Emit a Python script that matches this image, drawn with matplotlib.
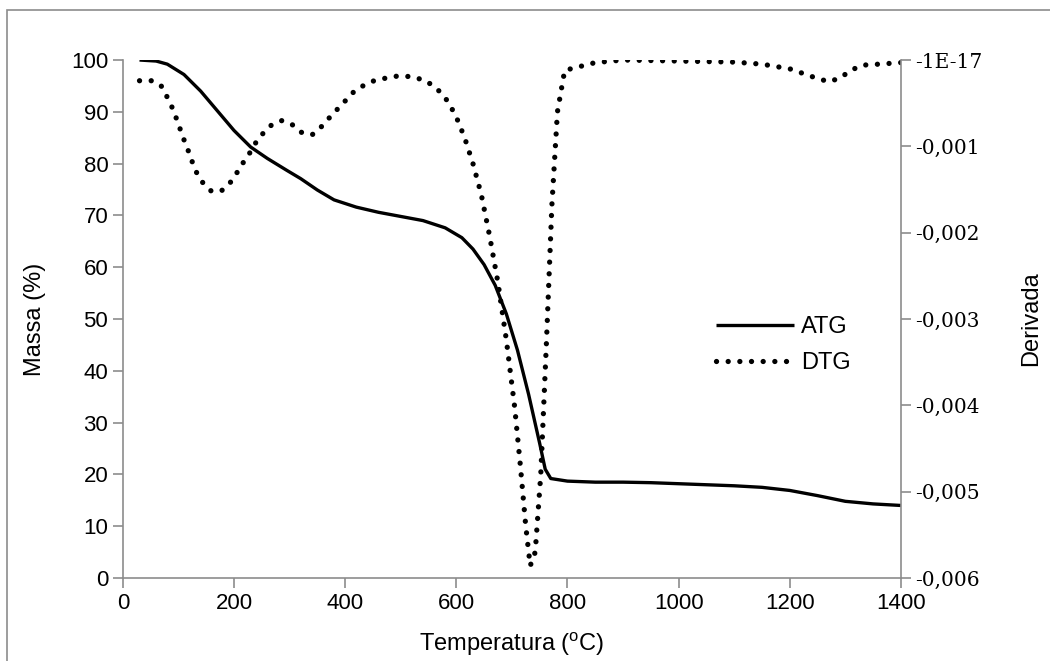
import matplotlib
matplotlib.use("Agg")
import matplotlib.pyplot as plt
import matplotlib.patches as patches

# ATG curve (mass %)
temp_atg = [30, 60, 80, 110, 140, 170, 200, 230, 260, 295, 320, 350, 380, 420, 460, 500,
            540, 580, 610, 630, 650, 670, 690, 710, 730, 750, 760, 770, 800, 850, 900,
            950, 1000, 1050, 1100, 1150, 1200, 1250, 1300, 1350, 1400]
massa = [100, 99.8, 99.2, 97.2, 94, 90.2, 86.4, 83.2, 81, 78.7, 77.1, 74.9, 73, 71.6, 70.6, 69.8,
         69, 67.6, 65.7, 63.5, 60.5, 56.5, 51, 44, 35.5, 26, 21, 19.2, 18.7, 18.5, 18.5,
         18.4, 18.2, 18.0, 17.8, 17.5, 16.9, 15.9, 14.8, 14.3, 14.0]

# DTG curve (derivative)
temp_dtg = [30, 52, 69, 79, 88, 96, 103, 110, 118, 125, 133, 144, 159, 177, 193, 205, 216, 228,
            239, 252, 267, 286, 305, 323, 341, 357, 372, 386, 401, 415, 432, 452, 473, 494, 520,
            545, 565, 585, 600, 615, 630, 645, 660, 675, 690, 705, 715, 725, 733, 742, 752, 762,
            772, 782, 795, 850, 900, 1000, 1100, 1150, 1200, 1240, 1270, 1290, 1310, 1330, 1360, 1400]
derivada = [-0.00024, -0.00024, -0.00030, -0.00042, -0.00054, -0.000672, -0.000798, -0.000924,
            -0.001056, -0.001182, -0.001308, -0.001422, -0.001518, -0.001518, -0.001422, -0.001308,
            -0.001194, -0.00108, -0.00096, -0.000852, -0.000756, -0.000702, -0.00075, -0.000846,
            -0.000864, -0.000774, -0.000666, -0.00057, -0.000468, -0.000372, -0.0003, -0.00024,
            -0.00021, -0.000186, -0.000192, -0.00024, -0.00033, -0.00048, -0.00066, -0.0009,
            -0.0012, -0.00156, -0.00204, -0.00258, -0.00324, -0.00402, -0.00468, -0.00540,
            -0.00586, -0.00570, -0.0048, -0.0033, -0.00168, -0.0006, -0.00012, -0.00003, 0.0,
            -0.000012, -0.000024, -0.000048, -0.000102, -0.000192, -0.000252, -0.00021, -0.00012,
            -0.00006, -0.000048, -0.00003]

x_ticks = [0, 200, 400, 600, 800, 1000, 1200, 1400]
left_ticks = list(range(0, 101, 10))
right_ticks = [-0.006, -0.005, -0.004, -0.003, -0.002, -0.001, 0.0]
right_labels = ["-0,006", "-0,005", "-0,004", "-0,003", "-0,002", "-0,001", "-1E-17"]

plt.rcParams["font.family"] = ["Liberation Sans", "DejaVu Sans"]
plt.rcParams["mathtext.fontset"] = "custom"
plt.rcParams["mathtext.rm"] = "Liberation Sans"

grey = "#8c8c8c"

fig = plt.figure(figsize=(10.5, 6.61), dpi=100)
ax = fig.add_axes([0.117, 0.1256, 0.741, 0.7836])
ax2 = ax.twinx()

# outer chart border
fig.patches.append(patches.Rectangle((7 / 1050, -0.5), 2.0, 1.5 - 10 / 661,
                                     transform=fig.transFigure, fill=False,
                                     edgecolor=grey, lw=1.2))

l1, = ax.plot(temp_atg, massa, color="black", lw=2.4, solid_capstyle="butt", label="ATG")
l2, = ax2.plot(temp_dtg, derivada, color="black", lw=3.8, linestyle=(0, (0.01, 2.2)),
               dash_capstyle="round", label="DTG")

ax.set_xlim(0, 1400)
ax.set_ylim(0, 100)
ax2.set_ylim(-0.006, 0)
ax.set_xticks(x_ticks)
ax.set_yticks(left_ticks)
ax2.set_yticks(right_ticks)
ax2.set_yticklabels(right_labels, family="DejaVu Serif", fontsize=14.5)

for a in (ax, ax2):
    for s in a.spines.values():
        s.set_visible(False)
    a.tick_params(colors=grey, labelcolor="black", length=7, width=1.2, labelsize=16)
ax.spines["left"].set_visible(True)
ax.spines["bottom"].set_visible(True)
ax2.spines["right"].set_visible(True)
for s in (ax.spines["left"], ax.spines["bottom"], ax2.spines["right"]):
    s.set_color(grey)
    s.set_linewidth(1.2)
ax2.tick_params(labelsize=14.5)

ax.set_xlabel("Temperatura ($^{\\mathrm{o}}$C)", fontsize=17, labelpad=12)
ax.set_ylabel("Massa (%)", fontsize=17, labelpad=18)
ax2.set_ylabel("Derivada", fontsize=17, labelpad=27)

ax.legend([l1, l2], ["ATG", "DTG"], loc="center left", bbox_to_anchor=(0.735, 0.45),
          frameon=False, fontsize=17, handlelength=3.3, handletextpad=0.3, labelspacing=0.6)

fig.savefig("out.png", dpi=100)
